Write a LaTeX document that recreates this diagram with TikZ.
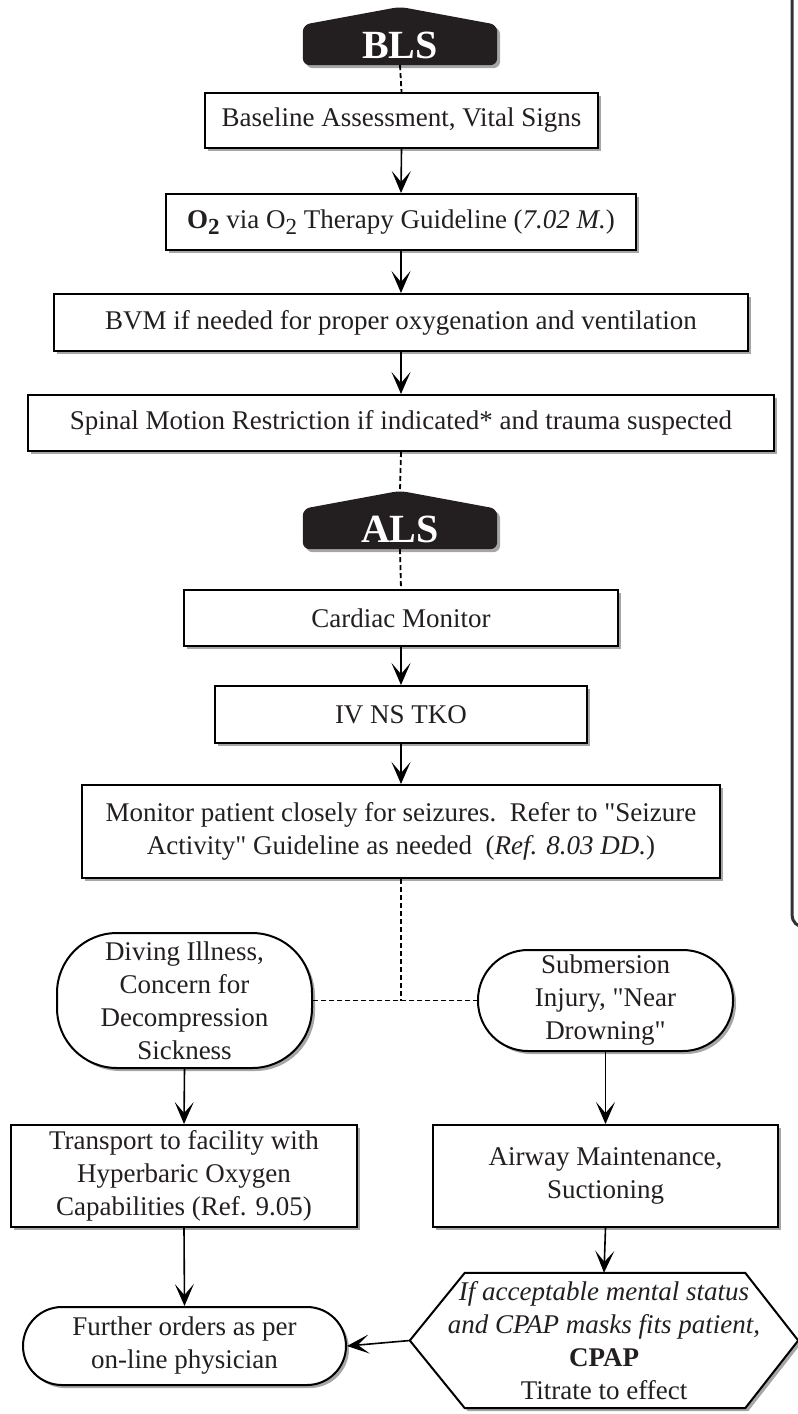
\documentclass[tikz,border=0pt]{standalone}
\usepackage{fontspec}
\setmainfont{Liberation Serif}[Ligatures=TeXOff]
\usetikzlibrary{arrows.meta,shadows,backgrounds,calc}
\definecolor{txt}{RGB}{35,31,32}
\definecolor{panelc}{RGB}{50,50,50}
\newcommand\subtwo{\raisebox{-6.5pt}{\fontsize{23}{23}\selectfont 2}}
\begin{document}
\begin{tikzpicture}[x=1pt,y=-1pt,
  every node/.style={font=\fontsize{27}{33}\selectfont, text=txt},
  shad/.style={drop shadow={shadow xshift=3pt, shadow yshift=-3pt, opacity=0.35, fill=black}},
  box/.style={draw, line width=2pt, fill=white, inner sep=0pt, align=center, shad},
  stad/.style={box, rounded corners=#1},
  hdr/.style={inner sep=0pt, minimum width=194pt, minimum height=40pt, text=white, font=\fontsize{40}{40}\selectfont\bfseries},
  hdrfill/.style={fill={rgb,255:red,35;green,31;blue,32}, rounded corners=7pt, shad},
  arr/.style={line width=1.6pt, -{Stealth[length=22pt, width=19pt, inset=11pt]}},
  dashline/.style={line width=1.8pt, dash pattern=on 5pt off 3pt},
]
\useasboundingbox (0,0) rectangle (798,1414);

% right panel edge
\draw[line width=3pt, panelc, rounded corners=12pt] (792,-10) -- (792,927) -- (840,927);

% headers
\node[hdr] (bls) at (400,45) {BLS};
\node[hdr] (als) at (400,529) {ALS};
\begin{scope}[on background layer]
\fill[hdrfill] ([yshift=18pt]bls.north) -- (bls.north east) -- (bls.south east) -- (bls.south west) -- (bls.north west) -- cycle;
\fill[hdrfill] ([yshift=18pt]als.north) -- (als.north east) -- (als.south east) -- (als.south west) -- (als.north west) -- cycle;
\end{scope}

% BLS column
\node[box, minimum width=393pt, minimum height=55pt] (b1) at (401.5,120.5) {Baseline Assessment, Vital Signs};
\node[box, minimum width=470pt, minimum height=56pt] (b2) at (401,222) {\textbf{O\subtwo} via O\subtwo\ Therapy Guideline (\textit{7.02 M.})};
\node[box, minimum width=694pt, minimum height=57pt] (b3) at (401,322.5) {BVM if needed for proper oxygenation and ventilation};
\node[box, minimum width=746pt, minimum height=56pt] (b4) at (401,423) {Spinal Motion Restriction if indicated* and trauma suspected};

% ALS column
\node[box, minimum width=434pt, minimum height=56pt] (b5) at (401,618) {Cardiac Monitor};
\node[box, minimum width=372pt, minimum height=57pt] (b6) at (401,714.5) {IV NS TKO};
\node[box, minimum width=638pt, minimum height=93pt] (b7) at (401,831.5) {Monitor patient closely for seizures.\ \ Refer to "Seizure\\Activity" Guideline as needed\ \ (\textit{Ref. 8.03 DD.})};

% branches
\node[stad=60pt, minimum width=255pt, minimum height=135pt] (dive) at (184.5,1000.5) {Diving Illness,\\Concern for\\Decompression\\Sickness};
\node[stad=50pt, minimum width=255pt, minimum height=101pt] (sub) at (605.5,1000.5) {Submersion\\Injury, "Near\\Drowning"};
\node[box, minimum width=346pt, minimum height=102pt] (trans) at (184,1176) {Transport to facility with\\Hyperbaric Oxygen\\Capabilities (Ref. 9.05)};
\node[box, minimum width=345pt, minimum height=102pt] (air) at (605.5,1176) {Airway Maintenance,\\Suctioning};
\node[stad=39pt, minimum width=323pt, minimum height=78pt] (fur) at (184.5,1346) {Further orders as per\\on-line physician};
\node[inner sep=0pt, minimum width=388pt, minimum height=135pt, align=center] (hex) at (604,1340.5) {\textit{If acceptable mental status}\\\textit{and CPAP masks fits patient,}\\\textbf{CPAP}\\Titrate to effect};
\begin{scope}[on background layer]
\draw[line width=2pt, fill=white, shad] (hex.west) -- ([xshift=55pt]hex.north west) -- ([xshift=-53pt]hex.north east) -- (hex.east) -- ([xshift=-53pt]hex.south east) -- ([xshift=55pt]hex.south west) -- cycle;
\end{scope}

% connectors
\draw[dashline] (bls.south) -- (b1.north);
\draw[arr] (b1.south) -- (b2.north);
\draw[arr] (b2.south) -- (b3.north);
\draw[arr] (b3.south) -- (b4.north);
\draw[dashline] (b4.south) -- ([yshift=18pt]als.north);
\draw[dashline] (als.south) -- (b5.north);
\draw[arr] (b5.south) -- (b6.north);
\draw[arr] (b6.south) -- (b7.north);
\coordinate (j) at (b7.south |- dive.east);
\draw[dashline] (b7.south) -- (j);
\draw[dashline] (dive.east) -- (sub.west);
\draw[arr] (dive.south) -- (trans.north);
\draw[arr] (trans.south) -- (fur.north);
\draw[arr] (sub.south) -- (air.north);
\draw[arr] (air.south) -- (hex.north);
\draw[arr] (hex.west) -- (fur.east);
\end{tikzpicture}
\end{document}
